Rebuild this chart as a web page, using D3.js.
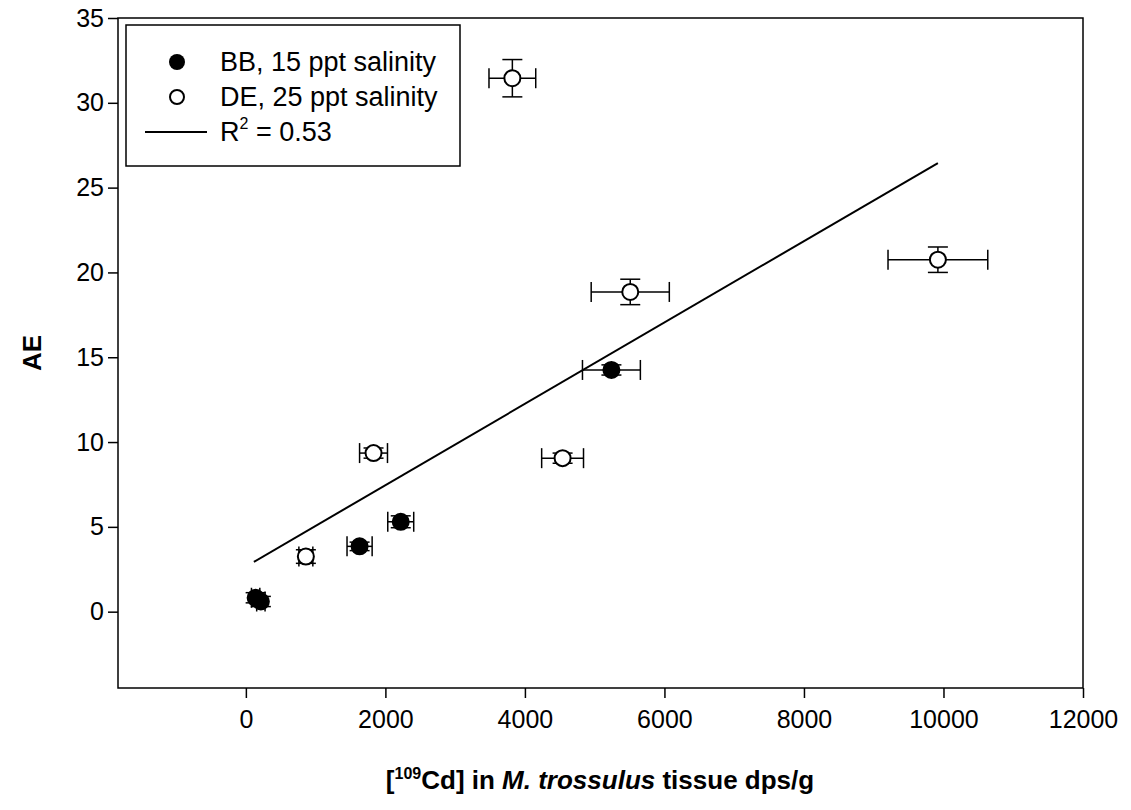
<!DOCTYPE html>
<html>
<head>
<meta charset="utf-8">
<script src="https://d3js.org/d3.v7.min.js"></script>
<style>
  body { margin: 0; background: #fff; }
  text { font-family: "Liberation Sans", Arial, sans-serif; fill: #000; }
</style>
</head>
<body>
<svg id="chart" width="1131" height="810"></svg>
<script>
// BB, 15 ppt salinity (filled)
const bbX = [140, 215, 1630, 2220, 5240];
const bbY = [0.82, 0.6, 3.85, 5.3, 14.25];
const bbXErr = [60, 60, 180, 186, 415];
const bbYErr = [0.3, 0.3, 0.25, 0.35, 0.3];

// DE, 25 ppt salinity (open)
const deX = [860, 1830, 4540, 5510, 3820, 9920];
const deY = [3.25, 9.35, 9.05, 18.85, 31.45, 20.75];
const deXErr = [100, 200, 300, 560, 335, 715];
const deYErr = [0.4, 0.3, 0.3, 0.75, 1.1, 0.75];

// linear fit, R^2 = 0.53
const fitSlope = 0.002398;
const fitIntercept = 2.66;

const xTicks = [0, 2000, 4000, 6000, 8000, 10000, 12000];
const yTicks = [0, 5, 10, 15, 20, 25, 30, 35];

const svg = d3.select('#chart');
const plot = { left: 118, right: 1083, top: 18, bottom: 688 };

const x = d3.scaleLinear().domain([-1833, 12000]).range([plot.left, plot.right]);
const y = d3.scaleLinear().domain([-4.5, 35]).range([plot.bottom, plot.top]);

// frame
svg.append('rect')
    .attr('x', plot.left).attr('y', plot.top)
    .attr('width', plot.right - plot.left).attr('height', plot.bottom - plot.top)
    .attr('fill', 'none').attr('stroke', '#000').attr('stroke-width', 1.5);

const xAxis = svg.append('g')
    .attr('transform', `translate(0,${plot.bottom})`)
    .call(d3.axisBottom(x).tickValues(xTicks).tickFormat(d3.format('d')).tickSize(10).tickSizeOuter(0));
const yAxis = svg.append('g')
    .attr('transform', `translate(${plot.left},0)`)
    .call(d3.axisLeft(y).tickValues(yTicks).tickSize(10).tickSizeOuter(0));

[xAxis, yAxis].forEach(a => {
    a.select('.domain').remove();
    a.selectAll('.tick line').attr('stroke', '#000').attr('stroke-width', 1.5);
    a.selectAll('.tick text').style('font-size', '25px').attr('fill', '#000');
});
xAxis.selectAll('.tick text').attr('y', 22);
yAxis.selectAll('.tick text').attr('x', -14);

// axis titles
svg.append('text')
    .attr('transform', 'translate(41,353) rotate(-90)')
    .attr('text-anchor', 'middle')
    .style('font-size', '26px').style('font-weight', 'bold')
    .text('AE');

const xt = svg.append('text')
    .attr('x', 600).attr('y', 789)
    .attr('text-anchor', 'middle')
    .style('font-size', '26px').style('font-weight', 'bold');
xt.append('tspan').text('[');
xt.append('tspan').attr('dy', -10).style('font-size', '16px').text('109');
xt.append('tspan').attr('dy', 10).text('Cd] in ');
xt.append('tspan').style('font-style', 'italic').text('M. trossulus');
xt.append('tspan').text(' tissue dps/g');

// regression line
const allX = bbX.concat(deX);
const fitX = [115, d3.max(allX)];
svg.append('path')
    .attr('d', d3.line().x(d => x(d)).y(d => y(fitIntercept + fitSlope * d))(fitX))
    .attr('fill', 'none').attr('stroke', '#000').attr('stroke-width', 2);

function drawSeries(xs, ys, xe, ye, filled) {
    const g = svg.append('g');
    const cap = 10;
    const pts = xs.map((v, i) => ({ x: v, y: ys[i], xe: xe[i], ye: ye[i] }));
    const bars = g.selectAll('g.pt').data(pts).enter().append('g')
        .attr('stroke', '#000').attr('stroke-width', 1.5);
    // x error
    bars.append('line')
        .attr('x1', d => x(d.x - d.xe)).attr('x2', d => x(d.x + d.xe))
        .attr('y1', d => y(d.y)).attr('y2', d => y(d.y));
    bars.append('line')
        .attr('x1', d => x(d.x - d.xe)).attr('x2', d => x(d.x - d.xe))
        .attr('y1', d => y(d.y) - cap).attr('y2', d => y(d.y) + cap);
    bars.append('line')
        .attr('x1', d => x(d.x + d.xe)).attr('x2', d => x(d.x + d.xe))
        .attr('y1', d => y(d.y) - cap).attr('y2', d => y(d.y) + cap);
    // y error
    bars.append('line')
        .attr('x1', d => x(d.x)).attr('x2', d => x(d.x))
        .attr('y1', d => y(d.y - d.ye)).attr('y2', d => y(d.y + d.ye));
    bars.append('line')
        .attr('x1', d => x(d.x) - cap).attr('x2', d => x(d.x) + cap)
        .attr('y1', d => y(d.y - d.ye)).attr('y2', d => y(d.y - d.ye));
    bars.append('line')
        .attr('x1', d => x(d.x) - cap).attr('x2', d => x(d.x) + cap)
        .attr('y1', d => y(d.y + d.ye)).attr('y2', d => y(d.y + d.ye));
    bars.append('circle')
        .attr('cx', d => x(d.x)).attr('cy', d => y(d.y))
        .attr('r', 8)
        .attr('fill', filled ? '#000' : '#fff')
        .attr('stroke-width', 2);
}

drawSeries(deX, deY, deXErr, deYErr, false);
drawSeries(bbX, bbY, bbXErr, bbYErr, true);

// legend
const leg = svg.append('g');
leg.append('rect')
    .attr('x', 126).attr('y', 25).attr('width', 334).attr('height', 141)
    .attr('fill', '#fff').attr('stroke', '#000').attr('stroke-width', 1.5);
leg.append('circle').attr('cx', 177).attr('cy', 62).attr('r', 8).attr('fill', '#000');
leg.append('circle').attr('cx', 177).attr('cy', 97).attr('r', 7)
    .attr('fill', '#fff').attr('stroke', '#000').attr('stroke-width', 2);
leg.append('line').attr('x1', 145).attr('x2', 207).attr('y1', 132).attr('y2', 132)
    .attr('stroke', '#000').attr('stroke-width', 2);
const legText = ['BB, 15 ppt salinity', 'DE, 25 ppt salinity'];
legText.forEach((t, i) => {
    leg.append('text').attr('x', 220).attr('y', 71 + i * 35)
        .style('font-size', '27px').text(t);
});
const r2 = leg.append('text').attr('x', 220).attr('y', 141).style('font-size', '27px');
r2.append('tspan').text('R');
r2.append('tspan').attr('dy', -12).style('font-size', '16px').text('2');
r2.append('tspan').attr('dy', 12).text(' = 0.53');
</script>
</body>
</html>
